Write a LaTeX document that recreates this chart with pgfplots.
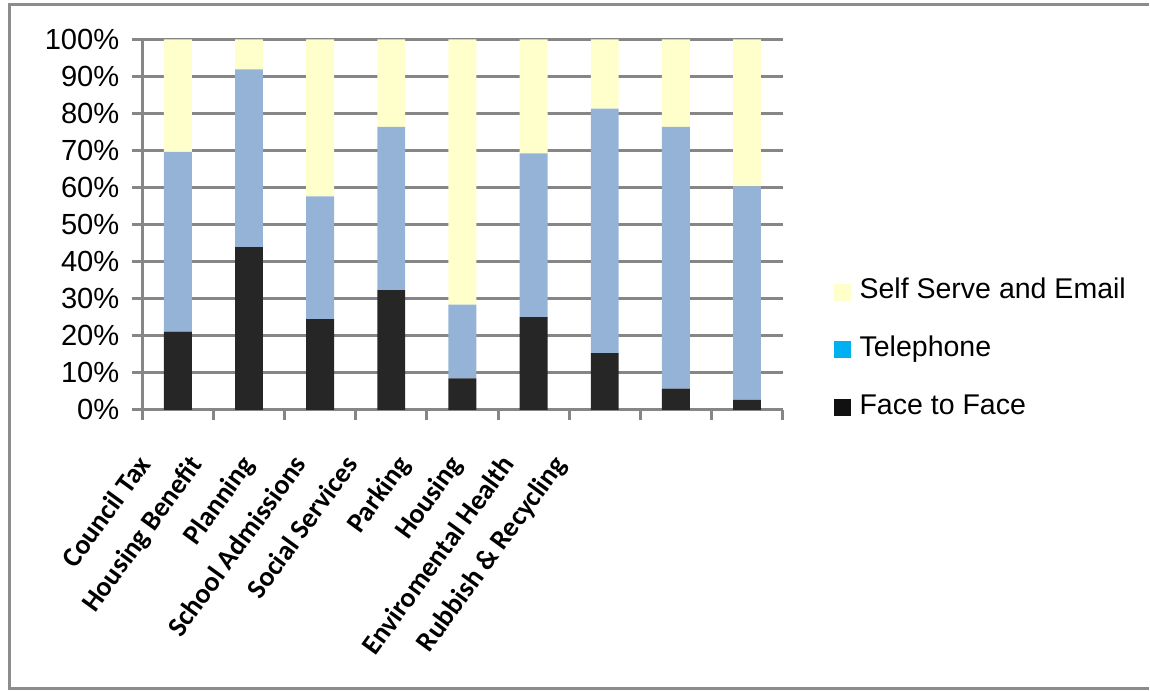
\documentclass[border=0pt]{standalone}
\usepackage{fontspec}
\setmainfont{Liberation Sans}
\newfontfamily\carlito{Carlito}
\usepackage{pgfplots}
\usepackage{pgfplotstable}
\pgfplotsset{compat=1.18}
\definecolor{f2f}{HTML}{262626}
\definecolor{tel}{HTML}{95B3D7}
\definecolor{selfc}{HTML}{FFFFCC}
\definecolor{legtel}{HTML}{00B0F0}
\definecolor{legf2f}{HTML}{111111}
\definecolor{gridgray}{HTML}{868686}
\definecolor{bordergray}{HTML}{8C8C8C}

\pgfplotstableread{
x f2f tel self
0 21.1 48.5 30.4
1 43.9 48.0 8.1
2 24.5 33.1 42.4
3 32.3 44.1 23.6
4 8.5 19.9 71.6
5 25.0 44.2 30.8
6 15.3 66.0 18.7
7 5.7 70.7 23.6
8 2.7 57.6 39.7
}\datatable

\begin{document}
\begin{tikzpicture}
\path (0,0) rectangle (575pt,346.5pt);
\draw[bordergray, line width=1.5pt] (576pt,344.25pt) -- (4.75pt,344.25pt) -- (4.75pt,1pt) -- (576pt,1pt);
\begin{axis}[
  at={(71.35pt,141pt)}, anchor=south west,
  scale only axis, width=321.15pt, height=185.75pt,
  ybar stacked, bar width=14pt,
  xmin=-0.5, xmax=8.5, ymin=0, ymax=100,
  xtick={-0.5,0.5,1.5,2.5,3.5,4.5,5.5,6.5,7.5,8.5}, xticklabels={},
  ytick={0,10,...,100},
  yticklabel={\pgfmathprintnumber{\tick}\%},
  /pgf/number format/assume math mode=true,
  ticklabel style={font=\fontsize{14.6}{16}\selectfont},
  yticklabel style={xshift=-3pt},
  ymajorgrids, grid style={gridgray, line width=1.5pt},
  axis lines=left,
  axis line style={-, gridgray, line width=1.6pt},
  tick style={gridgray, line width=1.5pt},
  major tick length=5pt,
  tick align=outside,
  legend style={at={(1.0794,0.162)}, anchor=west, draw=none, fill=none,
    font=\fontsize{14.3}{16}\selectfont, row sep=14pt, column sep=3.5pt, inner sep=0pt,
    nodes={inner sep=1pt, text height=10pt, text depth=3pt}},
  legend cell align=left,
]
\addplot[fill=f2f, draw=none, forget plot] table[x=x, y=f2f]{\datatable};
\addplot[fill=tel, draw=none, forget plot] table[x=x, y=tel]{\datatable};
\addplot[fill=selfc, draw=none, forget plot] table[x=x, y=self]{\datatable};
\addlegendimage{legend image code/.code={\fill[selfc] (0pt,-4pt) rectangle (8pt,4pt);}}
\addlegendentry{Self Serve and Email}
\addlegendimage{legend image code/.code={\fill[legtel] (0pt,-4pt) rectangle (8pt,4pt);}}
\addlegendentry{Telephone}
\addlegendimage{legend image code/.code={\fill[legf2f] (0pt,-4pt) rectangle (8pt,4pt);}}
\addlegendentry{Face to Face}
\end{axis}
\foreach \lab [count=\i from 0] in {Council Tax, Housing Benefit, Planning, School Admissions, Social Services, Parking, Housing, Enviromental Health, {Rubbish \& Recycling}} {
  \pgfmathsetmacro\xx{(136+52.1*\i)*0.5}
  \node[rotate=54, anchor=north east, inner sep=0pt, font=\carlito\bfseries\fontsize{14}{16}\selectfont] at (\xx pt, 119.5pt) {\lab};
}
\end{tikzpicture}
\end{document}
